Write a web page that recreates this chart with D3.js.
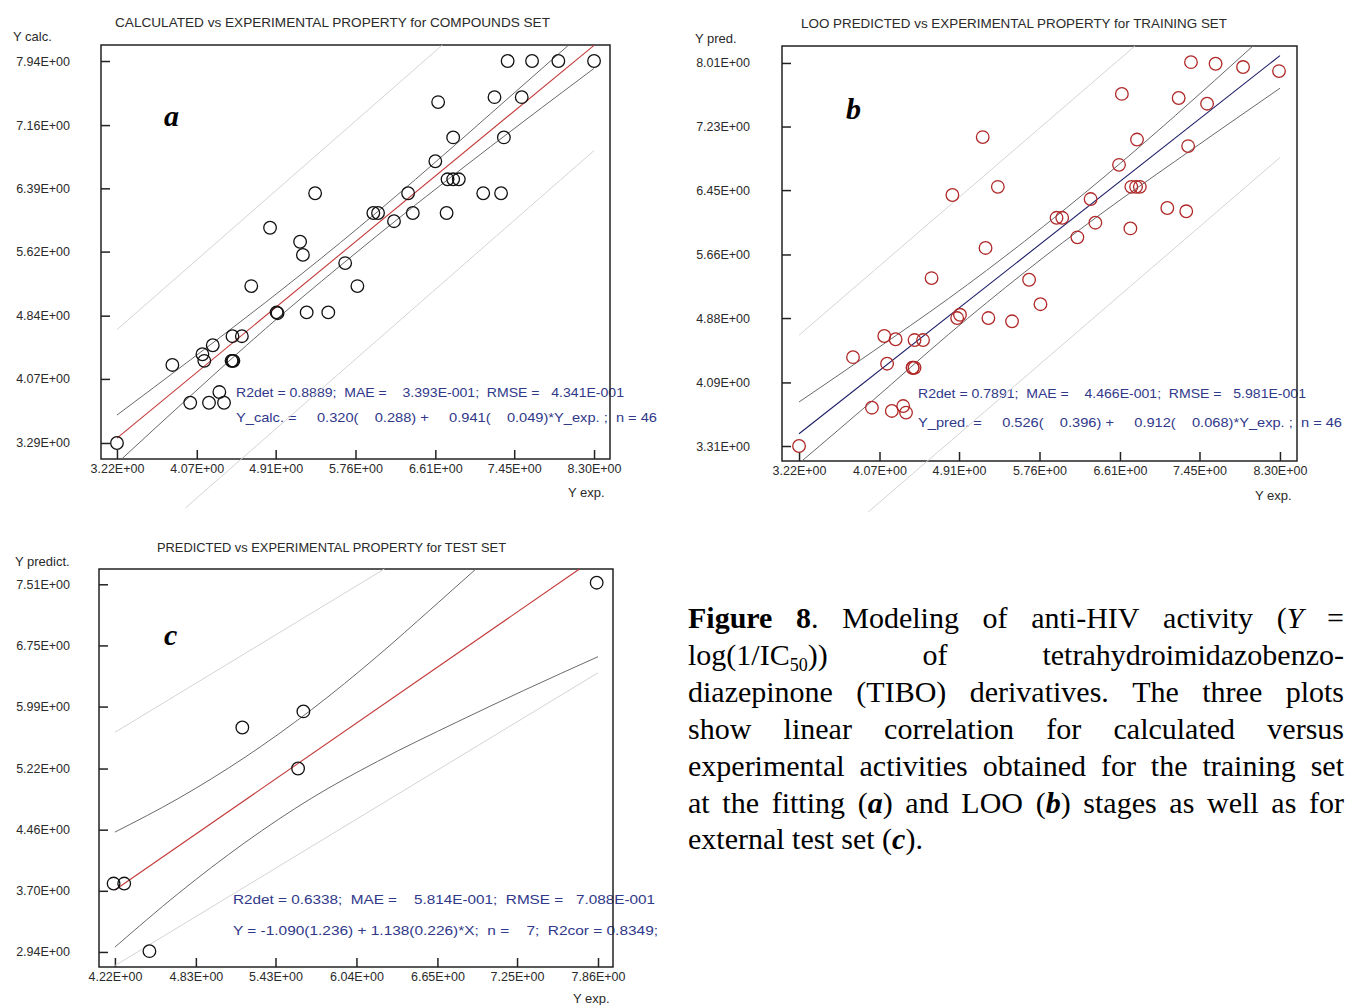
<!DOCTYPE html>
<html>
<head>
<meta charset="utf-8">
<script src="https://cdn.jsdelivr.net/npm/d3@7"></script>
<style>
body { margin: 0; background: #fff; }
svg { display: block; font-family: "Liberation Sans", Arial, sans-serif; }
</style>
</head>
<body>
<script>
// ---- values ----

// panel a: calculated vs experimental, compounds set
const yExpA = [3.22, 3.81, 4.00, 4.13, 4.15, 4.20, 4.24, 4.31, 4.36, 4.44, 4.46, 4.45, 4.55, 4.65, 4.85, 4.92,
  4.93, 5.17, 5.20, 5.24, 5.33, 5.47, 5.65, 5.78, 5.95, 6.00, 6.17, 6.32, 6.37, 6.61, 6.64, 6.73, 6.74, 6.80,
  6.86, 6.80, 7.12, 7.24, 7.31, 7.34, 7.38, 7.53, 7.64, 7.92, 8.30, 4.45];
const yCalcA = [3.29, 4.24, 3.78, 4.37, 4.29, 3.78, 4.48, 3.91, 3.78, 4.29, 4.29, 4.59, 4.59, 5.20, 5.91, 4.88,
  4.87, 5.74, 5.58, 4.88, 6.33, 4.88, 5.48, 5.20, 6.09, 6.09, 5.99, 6.33, 6.09, 6.72, 7.44, 6.09, 6.50, 6.50,
  6.50, 7.01, 6.33, 7.50, 6.33, 7.01, 7.94, 7.50, 7.94, 7.94, 7.94, 4.29];

// panel b: LOO predicted vs experimental, training set
const yExpB = [3.22, 3.79, 3.99, 4.12, 4.15, 4.20, 4.24, 4.32, 4.35, 4.42, 4.44, 4.44, 4.53, 4.62, 4.84, 4.89,
  4.92, 5.16, 5.19, 5.22, 5.32, 5.47, 5.65, 5.77, 5.94, 6.00, 6.16, 6.30, 6.35, 6.60, 6.63, 6.72, 6.73, 6.78,
  6.82, 6.79, 7.11, 7.23, 7.31, 7.33, 7.36, 7.53, 7.62, 7.91, 8.29, 4.42];
const yPredB = [3.31, 4.40, 3.78, 4.66, 4.32, 3.74, 4.62, 3.80, 3.72, 4.27, 4.27, 4.61, 4.61, 5.37, 6.39, 4.88,
  4.92, 7.10, 5.74, 4.88, 6.49, 4.84, 5.35, 5.05, 6.11, 6.11, 5.87, 6.34, 6.05, 6.76, 7.63, 5.98, 6.49, 6.49,
  6.49, 7.07, 6.23, 7.58, 6.19, 6.99, 8.02, 7.51, 8.00, 7.96, 7.91, 4.27];

// panel c: predicted vs experimental, test set
const yExpC = [4.21, 4.29, 4.48, 5.18, 5.64, 5.60, 7.85];
const yPredC = [3.79, 3.79, 2.95, 5.73, 5.93, 5.22, 7.53];

// fitted lines, confidence bands and outer limits (x, y pairs)
const fitA = [[3.22, 3.35], [8.30, 8.13]];
const bandUpA = [[3.22, 3.63], [4.0, 4.30], [4.8, 5.00], [5.6, 5.73], [6.4, 6.50], [7.2, 7.30], [8.03, 8.135]];
const bandLoA = [[3.27, 3.095], [4.0, 3.86], [4.8, 4.68], [5.6, 5.45], [6.4, 6.19], [7.2, 6.90], [8.30, 7.85]];
const outerUpA = [[3.22, 4.67], [6.685, 8.135]];
const outerLoA = [[3.95, 2.50], [8.30, 6.85]];

const fitB = [[3.22, 3.46], [8.30, 8.10]];
const bandUpB = [[3.22, 3.85], [4.0, 4.47], [4.8, 5.12], [5.6, 5.82], [6.4, 6.57], [7.2, 7.37], [8.014, 8.218]];
const bandLoB = [[3.25, 3.126], [4.0, 3.87], [4.8, 4.68], [5.6, 5.44], [6.4, 6.15], [7.2, 6.81], [8.30, 7.70]];
const outerUpB = [[3.22, 4.67], [6.768, 8.218]];
const outerLoB = [[3.95, 2.50], [8.30, 6.85]];

const fitC = [[4.22, 3.71], [7.72, 7.70]];
const bandUpC = [[4.22, 4.43], [4.7, 4.85], [5.2, 5.36], [5.7, 5.95], [6.2, 6.62], [6.6, 7.20], [6.94, 7.70]];
const bandLoC = [[4.22, 3.00], [4.7, 3.67], [5.2, 4.30], [5.7, 4.85], [6.2, 5.31], [6.8, 5.80], [7.3, 6.19], [7.86, 6.61]];
const outerUpC = [[4.22, 5.67], [6.25, 7.70]];
const outerLoC = [[4.22, 2.77], [7.86, 6.41]];

// tick values
const ticksXAB = [3.22, 4.07, 4.91, 5.76, 6.61, 7.45, 8.30];
const ticksYA = [3.29, 4.07, 4.84, 5.62, 6.39, 7.16, 7.94];
const ticksYB = [3.31, 4.09, 4.88, 5.66, 6.45, 7.23, 8.01];
const ticksXC = [4.22, 4.83, 5.43, 6.04, 6.65, 7.25, 7.86];
const ticksYC = [2.94, 3.70, 4.46, 5.22, 5.99, 6.75, 7.51];

const statsA = ["R2det = 0.8889;  MAE =    3.393E-001;  RMSE =   4.341E-001",
  "Y_calc. =     0.320(    0.288) +     0.941(    0.049)*Y_exp. ;  n = 46"];
const statsB = ["R2det = 0.7891;  MAE =    4.466E-001;  RMSE =   5.981E-001",
  "Y_pred. =     0.526(    0.396) +     0.912(    0.068)*Y_exp. ;  n = 46"];
const statsC = ["R2det = 0.6338;  MAE =    5.814E-001;  RMSE =   7.088E-001",
  "Y = -1.090(1.236) + 1.138(0.226)*X;  n =    7;  R2cor = 0.8349;"];

const captionLines = [
  "<b>Figure</b> <b>8</b>. Modeling of anti-HIV activity (<i>Y</i> =",
  "log(1/IC<sub>50</sub>)) of tetrahydroimidazobenzo-",
  "diazepinone (TIBO) derivatives. The three plots",
  "show linear correlation for calculated versus",
  "experimental activities obtained for the training set",
  "at the fitting (<bi>a</bi>) and LOO (<bi>b</bi>) stages as well as for",
  "external test set (<bi>c</bi>)."
];

// ---- drawing ----
const svg = d3.select("body").append("svg")
  .attr("width", 1345)
  .attr("height", 1005);

const fmt = d => d.toFixed(2) + "E+00";
const STAT_COLOR = "#30388a";

function drawPanel(p) {
  const x = d3.scaleLinear().domain(p.xDomain).range([p.left, p.right]);
  const y = d3.scaleLinear().domain(p.yDomain).range([p.bottom, p.top]);
  const g = svg.append("g");

  g.append("text")
    .attr("x", p.title[1]).attr("y", p.title[2])
    .attr("textLength", p.title[3]).attr("lengthAdjust", "spacingAndGlyphs")
    .style("font-size", "13px").attr("fill", "#2a2a2a")
    .text(p.title[0]);

  g.append("text").attr("x", p.yLabel[1]).attr("y", p.yLabel[2])
    .style("font-size", "13px").attr("fill", "#2a2a2a").text(p.yLabel[0]);
  g.append("text").attr("x", p.xLabel[1]).attr("y", p.xLabel[2])
    .style("font-size", "13px").attr("fill", "#2a2a2a").text(p.xLabel[0]);

  // statistics text sits under the frame
  p.stats.forEach((s, i) => {
    g.append("text")
      .attr("x", p.statX).attr("y", p.statY[i])
      .attr("textLength", p.statLen[i]).attr("lengthAdjust", "spacingAndGlyphs")
      .style("white-space", "pre").style("font-size", "13.5px")
      .attr("fill", STAT_COLOR)
      .text(s);
  });

  g.append("rect")
    .attr("x", p.left).attr("y", p.top)
    .attr("width", p.right - p.left).attr("height", p.bottom - p.top)
    .attr("fill", "none").attr("stroke", "#222").attr("stroke-width", 1.5);

  const xAxis = g.append("g")
    .attr("transform", `translate(0,${p.bottom})`)
    .call(d3.axisBottom(x).tickValues(p.xTicks).tickFormat(fmt)
      .tickSizeInner(-9).tickSizeOuter(0).tickPadding(5));
  const yAxis = g.append("g")
    .attr("transform", `translate(${p.left},0)`)
    .call(d3.axisLeft(y).tickValues(p.yTicks).tickFormat(fmt)
      .tickSizeInner(-9).tickSizeOuter(0).tickPadding(p.yPad));
  [xAxis, yAxis].forEach(a => {
    a.select(".domain").remove();
    a.selectAll(".tick line").attr("stroke", "#222").attr("stroke-width", 1.5);
    a.selectAll(".tick text").style("font-size", "12.5px")
      .style("font-family", '"Liberation Sans", Arial, sans-serif').attr("fill", "#2a2a2a");
  });

  const straight = d3.line().x(d => x(d[0])).y(d => y(d[1]));
  const curved = d3.line().x(d => x(d[0])).y(d => y(d[1])).curve(d3.curveMonotoneX);

  [p.outerUp, p.outerLo].forEach(d => {
    g.append("path").attr("d", straight(d))
      .attr("fill", "none").attr("stroke", "#d4d4d4").attr("stroke-width", 1);
  });
  [p.bandUp, p.bandLo].forEach(d => {
    g.append("path").attr("d", curved(d))
      .attr("fill", "none").attr("stroke", "#6a6a6a").attr("stroke-width", 1);
  });
  g.append("path").attr("d", straight(p.fit))
    .attr("fill", "none").attr("stroke", p.fitColor).attr("stroke-width", 1.1);

  g.append("g").selectAll("circle")
    .data(p.xs.map((v, i) => [v, p.ys[i]]))
    .join("circle")
    .attr("cx", d => x(d[0])).attr("cy", d => y(d[1]))
    .attr("r", 6.3)
    .attr("fill", "none").attr("stroke", p.pointColor).attr("stroke-width", 1.3);

  g.append("text")
    .attr("x", p.letter[1]).attr("y", p.letter[2])
    .style("font-family", '"Liberation Serif", "Times New Roman", serif')
    .style("font-size", "30px").style("font-weight", "bold").style("font-style", "italic")
    .attr("fill", "#000")
    .text(p.letter[0]);
}

drawPanel({
  left: 101, right: 610, top: 45, bottom: 459,
  xDomain: [3.05, 8.47], yDomain: [3.095, 8.135],
  xs: yExpA, ys: yCalcA, xTicks: ticksXAB, yTicks: ticksYA, yPad: 31,
  fit: fitA, bandUp: bandUpA, bandLo: bandLoA, outerUp: outerUpA, outerLo: outerLoA,
  fitColor: "#c43a3a", pointColor: "#111",
  title: ["CALCULATED vs EXPERIMENTAL PROPERTY for COMPOUNDS SET", 115, 27, 435],
  yLabel: ["Y calc.", 13, 41], xLabel: ["Y exp.", 568, 497],
  stats: statsA, statX: 236, statY: [397, 422], statLen: [388, 421],
  letter: ["a", 164, 126]
});

drawPanel({
  left: 782, right: 1297, top: 46, bottom: 461,
  xDomain: [3.04, 8.48], yDomain: [3.126, 8.218],
  xs: yExpB, ys: yPredB, xTicks: ticksXAB, yTicks: ticksYB, yPad: 32,
  fit: fitB, bandUp: bandUpB, bandLo: bandLoB, outerUp: outerUpB, outerLo: outerLoB,
  fitColor: "#1c1c66", pointColor: "#b02828",
  title: ["LOO PREDICTED vs EXPERIMENTAL PROPERTY for TRAINING SET", 801, 28, 426],
  yLabel: ["Y pred.", 695, 43], xLabel: ["Y exp.", 1255, 500],
  stats: statsB, statX: 918, statY: [398, 427], statLen: [388, 424],
  letter: ["b", 846, 119]
});

drawPanel({
  left: 99, right: 613, top: 569, bottom: 967,
  xDomain: [4.10, 7.973], yDomain: [2.753, 7.70],
  xs: yExpC, ys: yPredC, xTicks: ticksXC, yTicks: ticksYC, yPad: 29,
  fit: fitC, bandUp: bandUpC, bandLo: bandLoC, outerUp: outerUpC, outerLo: outerLoC,
  fitColor: "#c43a3a", pointColor: "#111",
  title: ["PREDICTED vs EXPERIMENTAL PROPERTY for TEST SET", 157, 552, 349],
  yLabel: ["Y predict.", 15, 566], xLabel: ["Y exp.", 573, 1003],
  stats: statsC, statX: 233, statY: [904, 935], statLen: [422, 425],
  letter: ["c", 164, 645]
});

// ---- caption, justified like the printed paragraph ----
const cap = svg.append("g")
  .style("font-family", '"Liberation Serif", "Times New Roman", serif')
  .style("font-size", "30px").attr("fill", "#000");
const CAP_LEFT = 688, CAP_RIGHT = 1344, CAP_TOP = 628, CAP_STEP = 36.9;

function runs(word) {
  const out = [];
  const re = /<(b|i|bi|sub)>(.*?)<\/\1>|([^<]+)/g;
  let m;
  while ((m = re.exec(word)) !== null) {
    if (m[3] !== undefined) out.push({ t: m[3], s: "" });
    else out.push({ t: m[2], s: m[1] });
  }
  return out;
}

captionLines.forEach((line, li) => {
  const baseY = CAP_TOP + li * CAP_STEP;
  const words = line.split(" ").map(w => {
    const t = cap.append("text").attr("y", baseY);
    let shifted = false;
    runs(w).forEach(r => {
      const ts = t.append("tspan").text(r.t);
      if (r.s === "b" || r.s === "bi") ts.style("font-weight", "bold");
      if (r.s === "i" || r.s === "bi") ts.style("font-style", "italic");
      if (r.s === "sub") {
        ts.style("font-size", "18px").attr("dy", 6);
        shifted = true;
      } else if (shifted) {
        ts.attr("dy", -6);
        shifted = false;
      }
    });
    return { node: t, w: t.node().getComputedTextLength() };
  });
  const total = d3.sum(words, d => d.w);
  const last = li === captionLines.length - 1;
  const gap = last ? 7.5 : (CAP_RIGHT - CAP_LEFT - total) / (words.length - 1);
  let cx = CAP_LEFT;
  words.forEach(d => {
    d.node.attr("x", cx);
    cx += d.w + gap;
  });
});
</script>
</body>
</html>
